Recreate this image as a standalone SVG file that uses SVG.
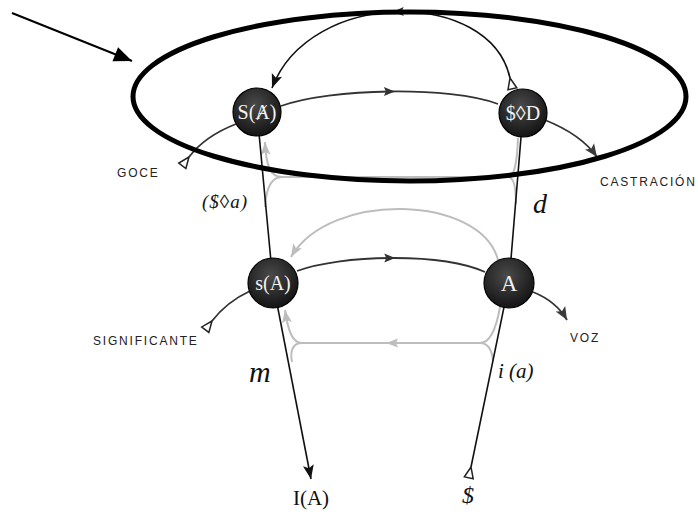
<svg xmlns="http://www.w3.org/2000/svg" width="698" height="512" viewBox="0 0 698 512">
<style>
.dark{fill:none;stroke:#333;stroke-width:1.8}
.blk{fill:none;stroke:#111;stroke-width:1.6}
.gry{fill:none;stroke:#bdbdbd;stroke-width:2}
.nt{font-family:"Liberation Serif","DejaVu Serif",serif;font-size:20px;fill:#f2f2f2;text-anchor:middle}
.lab{font-family:"Liberation Sans","DejaVu Sans",sans-serif;font-size:12px;fill:#222;letter-spacing:1.8px}
.it{font-family:"Liberation Serif","DejaVu Serif",serif;font-style:italic;fill:#111}
.sr{font-family:"Liberation Serif","DejaVu Serif",serif;fill:#111}
.nc{stroke:#000;stroke-width:1.2;fill:url(#ng)}
</style>
<defs>
<radialGradient id="ng" cx="0.45" cy="0.35" r="0.65">
<stop offset="0" stop-color="#4a4a4a"/>
<stop offset="1" stop-color="#141414"/>
</radialGradient>
<marker id="ahB" viewBox="-15 -7 17 14" refX="0" refY="0" markerWidth="17" markerHeight="14" markerUnits="userSpaceOnUse" orient="auto"><path d="M0,0 L-14,-5.5 L-11,0 L-14,5.5 Z" fill="#111"/></marker>
<marker id="ahD" viewBox="-15 -7 17 14" refX="0" refY="0" markerWidth="17" markerHeight="14" markerUnits="userSpaceOnUse" orient="auto"><path d="M0,0 L-13,-5.5 L-10,0 L-13,5.5 Z" fill="#3a3a3a"/></marker>
<marker id="ahM" viewBox="-8 -6 16 12" refX="0" refY="0" markerWidth="16" markerHeight="12" markerUnits="userSpaceOnUse" orient="auto"><path d="M5,0 L-6,-4.5 L-4,0 L-6,4.5 Z" fill="#333"/></marker>
<marker id="ahG" viewBox="-15 -7 17 14" refX="0" refY="0" markerWidth="17" markerHeight="14" markerUnits="userSpaceOnUse" orient="auto"><path d="M0,0 L-13,-5 L-10,0 L-13,5 Z" fill="#bdbdbd"/></marker>
<marker id="ahGM" viewBox="-8 -6 16 12" refX="0" refY="0" markerWidth="16" markerHeight="12" markerUnits="userSpaceOnUse" orient="auto"><path d="M5,0 L-7,-4.5 L-5,0 L-7,4.5 Z" fill="#bdbdbd"/></marker>
<marker id="tail" viewBox="-14 -7 16 14" refX="0" refY="0" markerWidth="16" markerHeight="14" markerUnits="userSpaceOnUse" orient="auto"><path d="M0,0 L-11,-4.5 L-11,4.5 Z" fill="#fff" stroke="#222" stroke-width="1.5"/></marker>
<marker id="big" viewBox="-20 -9 22 18" refX="0" refY="0" markerWidth="22" markerHeight="18" markerUnits="userSpaceOnUse" orient="auto"><path d="M0,0 L-18,-7.5 L-18,7.5 Z" fill="#000"/></marker>
</defs>
<rect width="698" height="512" fill="#fff"/>
<g id="connectors">
<path class="gry" d="M508 177 L282 177"/>
<path class="gry" d="M282 177 C270 177 266 165 265 142" marker-end="url(#ahG)"/>
<path class="gry" d="M282 177 C270 177 266 190 265 207"/>
<path class="gry" d="M508 177 C514 177 517 165 518 138"/>
<path class="gry" d="M508 177 C514 177 516 190 516 204"/>
<path class="gry" d="M498 260 C481 195 330 190 291 257" marker-end="url(#ahG)"/>
<path class="gry" d="M480 343 L391 343 L302 343" marker-mid="url(#ahGM)"/>
<path class="gry" d="M302 343 C292 343 288 330 285 310" marker-end="url(#ahG)"/>
<path class="gry" d="M302 343 C292 343 290 352 292 362"/>
<path class="gry" d="M480 343 C490 343 496 330 500 307"/>
<path class="gry" d="M480 343 C488 343 492 350 493 361"/>
<path class="blk" d="M257 112 L273 283"/>
<path class="blk" d="M273 283 L311 479" marker-end="url(#ahB)"/>
<path class="blk" d="M471 467 L509 283 L523 113" marker-start="url(#tail)"/>
<path class="dark" d="M281 106 C305.5 97 347.75 92 389.9 91.5 C432 91 474 95 498 104" marker-mid="url(#ahM)"/>
<path class="dark" d="M297 271 C318.5 263 354.25 258.25 390.25 258 C426.25 257.75 462.5 262 485 272" marker-mid="url(#ahM)"/>
<path class="blk" d="M510 78 C500 33 450 10.5 397.75 11.75 C345.5 13 291 38 272 88" marker-start="url(#tail)" marker-mid="url(#ahM)" marker-end="url(#ahB)"/>
<path class="dark" d="M189 157 C202 140 218 131 236 124" marker-start="url(#tail)"/>
<path class="dark" d="M545 120 C565 128 585 140 597 157" marker-end="url(#ahD)"/>
<path class="dark" d="M212 321 C222 308 235 298 250 291" marker-start="url(#tail)"/>
<path class="dark" d="M533 292 C548 298 560 308 567 320" marker-end="url(#ahD)"/>
</g>
<g id="node-SbarA">
<circle class="nc" cx="257" cy="112" r="24"/>
<text class="nt" x="257" y="119">S(Ⱥ)</text>
</g>
<g id="node-SD">
<circle class="nc" cx="523" cy="113" r="24"/>
<text class="nt" x="523" y="120">$◊D</text>
</g>
<g id="node-sA">
<circle class="nc" cx="273" cy="283" r="25"/>
<text class="nt" x="273" y="290">s(A)</text>
</g>
<g id="node-A">
<circle class="nc" cx="509" cy="283" r="25"/>
<text class="nt" x="509" y="291" style="font-size:23px">A</text>
</g>
<g id="highlight">
<ellipse cx="409.5" cy="96.5" rx="276.5" ry="84.5" fill="none" stroke="#000" stroke-width="5"/>
<path d="M12 13 L132 61" stroke="#000" stroke-width="2" fill="none" marker-end="url(#big)"/>
</g>
<g id="labels">
<text class="lab" x="117" y="177">GOCE</text>
<text class="lab" x="600" y="186">CASTRACIÓN</text>
<text class="lab" x="93" y="345">SIGNIFICANTE</text>
<text class="lab" x="570" y="342">VOZ</text>
<text class="it" x="202" y="208" style="font-size:19px;letter-spacing:1px">($◊a)</text>
<text class="it" x="533" y="213" style="font-size:28px">d</text>
<text class="it" x="249" y="382" style="font-size:30px">m</text>
<text class="it" x="498" y="378" style="font-size:21px">i (a)</text>
<text class="sr" x="311" y="505" text-anchor="middle" style="font-size:21px">I(A)</text>
<text class="it" x="468" y="503" text-anchor="middle" style="font-size:24px">$</text>
</g>
</svg>
